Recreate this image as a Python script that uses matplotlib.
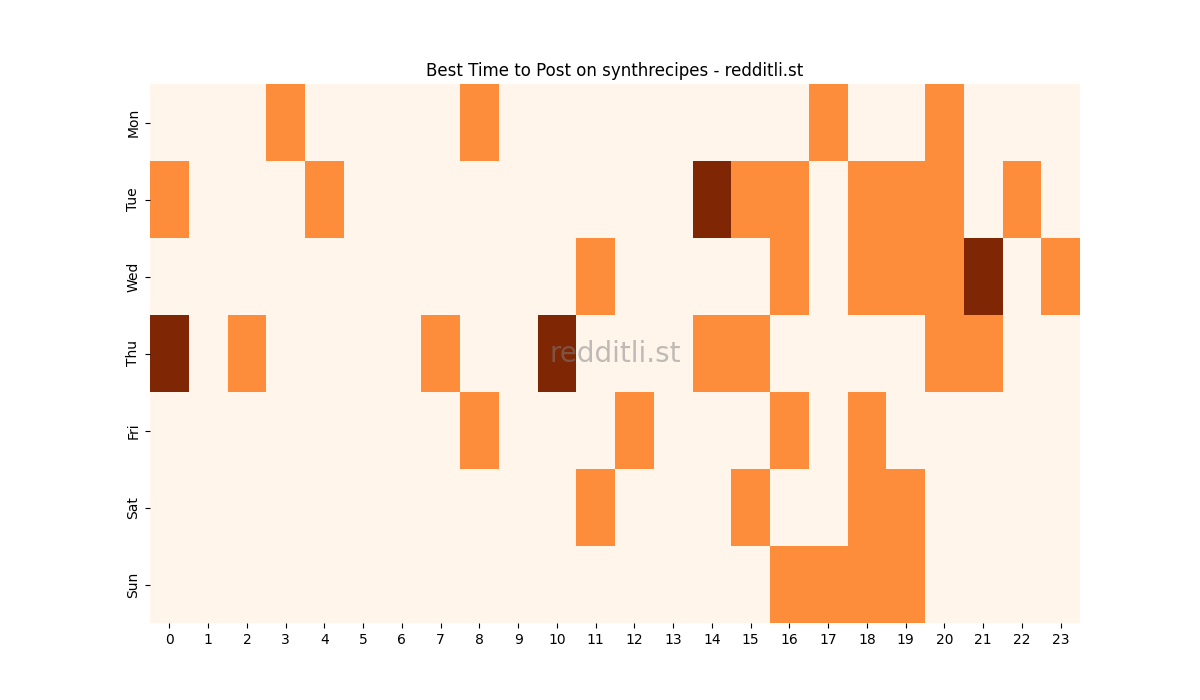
import matplotlib
matplotlib.use("Agg")
import matplotlib.pyplot as plt
import seaborn as sns
import numpy as np

days = ["Mon", "Tue", "Wed", "Thu", "Fri", "Sat", "Sun"]
hours = list(range(24))

# activity level per day, one entry per hour (0 = low, 1 = good, 2 = best)
mon = [0, 0, 0, 1, 0, 0, 0, 0, 1, 0, 0, 0, 0, 0, 0, 0, 0, 1, 0, 0, 1, 0, 0, 0]
tue = [1, 0, 0, 0, 1, 0, 0, 0, 0, 0, 0, 0, 0, 0, 2, 1, 1, 0, 1, 1, 1, 0, 1, 0]
wed = [0, 0, 0, 0, 0, 0, 0, 0, 0, 0, 0, 1, 0, 0, 0, 0, 1, 0, 1, 1, 1, 2, 0, 1]
thu = [2, 0, 1, 0, 0, 0, 0, 1, 0, 0, 2, 0, 0, 0, 1, 1, 0, 0, 0, 0, 1, 1, 0, 0]
fri = [0, 0, 0, 0, 0, 0, 0, 0, 1, 0, 0, 0, 1, 0, 0, 0, 1, 0, 1, 0, 0, 0, 0, 0]
sat = [0, 0, 0, 0, 0, 0, 0, 0, 0, 0, 0, 1, 0, 0, 0, 1, 0, 0, 1, 1, 0, 0, 0, 0]
sun = [0, 0, 0, 0, 0, 0, 0, 0, 0, 0, 0, 0, 0, 0, 0, 0, 1, 1, 1, 1, 0, 0, 0, 0]

grid = np.array([mon, tue, wed, thu, fri, sat, sun])

fig = plt.figure(figsize=(12, 7), dpi=100)
ax = fig.add_subplot(111)
sns.heatmap(grid, cmap="Oranges", vmin=0, vmax=2, cbar=False,
            xticklabels=hours, yticklabels=days, ax=ax)
ax.set_yticklabels(days, rotation=90, va="center")
ax.set_xticklabels(hours, rotation=0)
ax.set_title("Best Time to Post on synthrecipes - redditli.st")
ax.text(0.5, 0.5, "redditli.st", transform=ax.transAxes, fontsize=20,
        color="gray", alpha=0.5, ha="center", va="center")
fig.savefig("out.png")
